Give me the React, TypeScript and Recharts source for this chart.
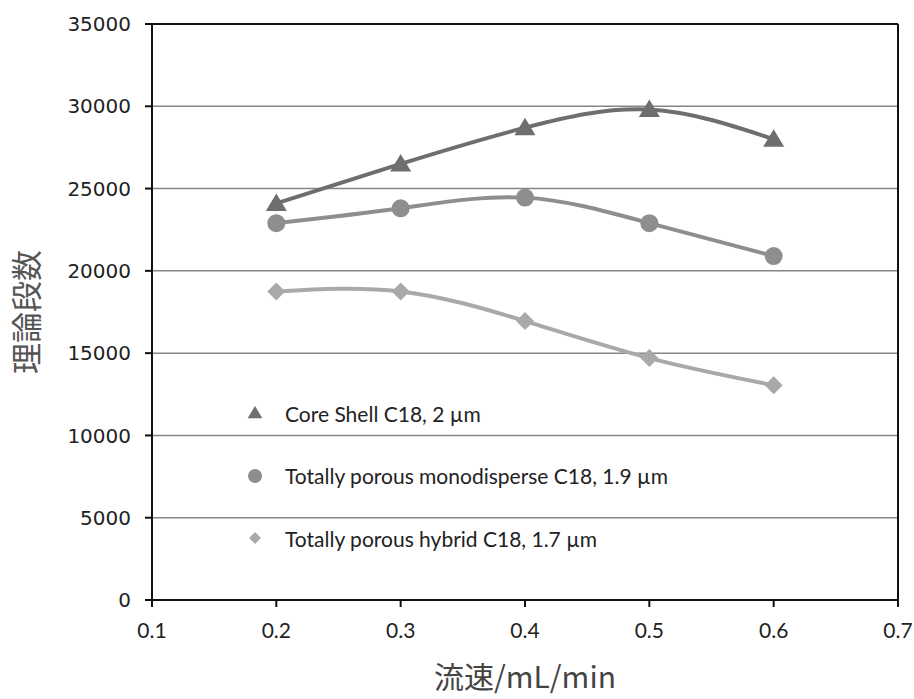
import React from 'react'
import {
    LineChart,
    Line,
    XAxis,
    YAxis,
    CartesianGrid,
    ReferenceLine,
} from 'recharts'

const flowRates = [0.2, 0.3, 0.4, 0.5, 0.6]
const coreShell = [24100, 26500, 28700, 29800, 28000]
const monodisperse = [22900, 23800, 24450, 22900, 20900]
const hybrid = [18750, 18750, 16950, 14700, 13050]

const xTicks = [0.1, 0.2, 0.3, 0.4, 0.5, 0.6, 0.7]
const yTicks = [0, 5000, 10000, 15000, 20000, 25000, 30000, 35000]

const seriesNames = [
    'Core Shell C18, 2 µm',
    'Totally porous monodisperse C18, 1.9 µm',
    'Totally porous hybrid C18, 1.7 µm',
]

const data = flowRates.map((x, i) => ({
    x,
    core: coreShell[i],
    mono: monodisperse[i],
    hybrid: hybrid[i],
}))

const C_CORE = '#6e6e6e'
const C_MONO = '#8e8e8e'
const C_HYB = '#a9a9a9'

const Triangle = ({ cx, cy, fill, s = 10 }: any) => (
    <polygon
        points={`${cx},${cy - s} ${cx + s * 1.05},${cy + s * 0.75} ${cx - s * 1.05},${cy + s * 0.75}`}
        fill={fill}
    />
)
const Circle = ({ cx, cy, fill, r = 9 }: any) => <circle cx={cx} cy={cy} r={r} fill={fill} />
const Diamond = ({ cx, cy, fill, s = 9 }: any) => (
    <polygon points={`${cx},${cy - s} ${cx + s},${cy} ${cx},${cy + s} ${cx - s},${cy}`} fill={fill} />
)

const legendRows = [
    { name: seriesNames[0], icon: (x: number, y: number) => <Triangle cx={x} cy={y} fill={C_CORE} s={7} /> },
    { name: seriesNames[1], icon: (x: number, y: number) => <Circle cx={x} cy={y} fill={C_MONO} r={7} /> },
    { name: seriesNames[2], icon: (x: number, y: number) => <Diamond cx={x} cy={y} fill={C_HYB} s={6} /> },
]

// legend sits inside the plot area, like in the original chart
const InnerLegend = () => (
    <div
        style={{
            position: 'absolute',
            left: 240,
            top: 382,
            fontFamily: 'Lato, sans-serif',
            fontSize: 21,
            color: '#222',
            pointerEvents: 'none',
        }}
    >
        {legendRows.map((row, i) => (
            <div key={i} style={{ display: 'flex', alignItems: 'center', height: 62.5 }}>
                <svg width={30} height={20} style={{ marginRight: 15 }}>
                    {row.icon(15, 10)}
                </svg>
                <span>{row.name}</span>
            </div>
        ))}
    </div>
)

export default function App() {
    return (
        <div style={{ position: 'absolute', left: 0, top: 0, width: 914, height: 699, background: '#fff' }}>
            <LineChart width={914} height={699} data={data} margin={{ top: 24, right: 16, bottom: 69, left: 52 }}>
                <CartesianGrid vertical={false} stroke="#858585" strokeWidth={1.5} />
                <XAxis
                    dataKey="x"
                    type="number"
                    domain={[0.1, 0.7]}
                    ticks={xTicks}
                    tickFormatter={(v: number) => v.toFixed(1)}
                    stroke="#111"
                    strokeWidth={2}
                    tickSize={7}
                    tick={{ fill: '#222', fontSize: 21, fontFamily: 'Lato, sans-serif', dy: 14 }}
                    label={{
                        value: '流速/mL/min',
                        position: 'insideBottom',
                        offset: -58,
                        style: { fill: '#444', fontSize: 30, fontFamily: '"Noto Sans CJK JP", sans-serif' },
                    }}
                />
                <YAxis
                    type="number"
                    domain={[0, 35000]}
                    ticks={yTicks}
                    width={100}
                    stroke="#111"
                    strokeWidth={2}
                    tickSize={7}
                    tick={{ fill: '#222', fontSize: 20, fontFamily: '"DejaVu Sans", sans-serif', dx: -12 }}
                    label={{
                        value: '理論段数',
                        angle: -90,
                        position: 'insideLeft',
                        offset: -25,
                        style: {
                            textAnchor: 'middle',
                            fill: '#555',
                            fontSize: 31,
                            fontFamily: '"Noto Sans CJK JP", sans-serif',
                        },
                    }}
                />
                <ReferenceLine y={35000} stroke="#111" strokeWidth={2} />
                <ReferenceLine x={0.7} stroke="#111" strokeWidth={2} />
                <Line
                    type="natural"
                    dataKey="core"
                    name={seriesNames[0]}
                    stroke={C_CORE}
                    strokeWidth={4}
                    dot={(p: any) => <Triangle key={p.index} cx={p.cx} cy={p.cy} fill={C_CORE} />}
                    isAnimationActive={false}
                />
                <Line
                    type="natural"
                    dataKey="mono"
                    name={seriesNames[1]}
                    stroke={C_MONO}
                    strokeWidth={4}
                    dot={(p: any) => <Circle key={p.index} cx={p.cx} cy={p.cy} fill={C_MONO} />}
                    isAnimationActive={false}
                />
                <Line
                    type="natural"
                    dataKey="hybrid"
                    name={seriesNames[2]}
                    stroke={C_HYB}
                    strokeWidth={4}
                    dot={(p: any) => <Diamond key={p.index} cx={p.cx} cy={p.cy} fill={C_HYB} />}
                    isAnimationActive={false}
                />
            </LineChart>
            <InnerLegend />
        </div>
    )
}
